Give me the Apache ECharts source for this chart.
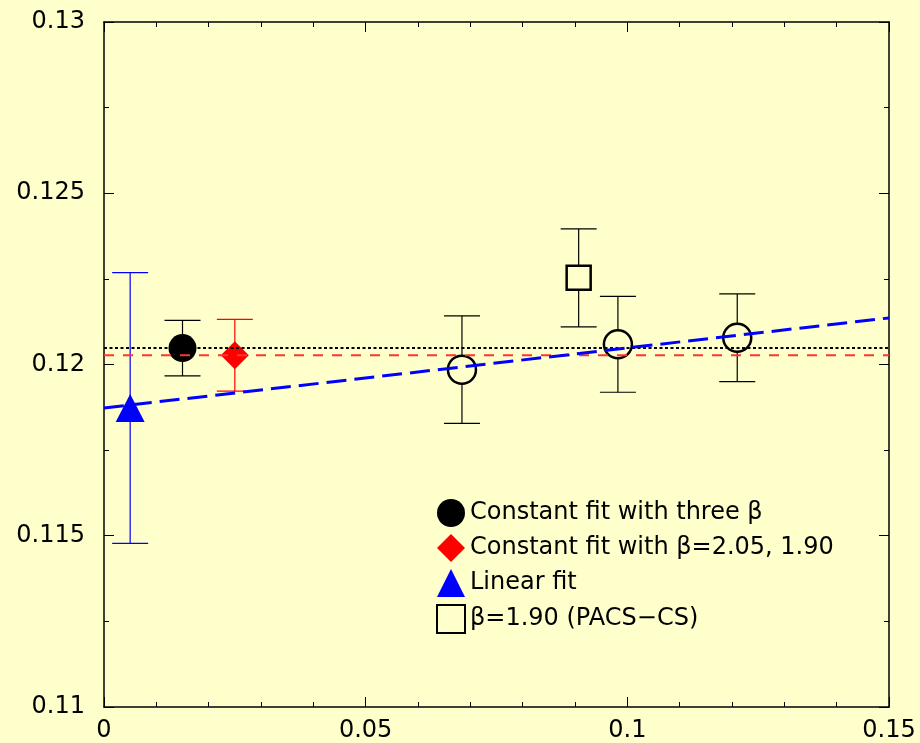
<!DOCTYPE html>
<html>
<head>
<meta charset="utf-8">
<script src="https://cdn.jsdelivr.net/npm/echarts@6/dist/echarts.min.js"></script>
<style>
  html, body { margin: 0; padding: 0; background: #ffffcc; }
  #chart { width: 920px; height: 743px; }
</style>
</head>
<body>
<div id="chart"></div>
<script>
// points: [x, y, error]
var threeBeta   = [[0.015, 0.12048, 0.00081]];   // filled black circle
var twoBeta     = [[0.025, 0.12027, 0.00105]];   // red diamond
var linearFit   = [[0.005, 0.11873, 0.00395]];   // blue triangle
var pacsCS      = [[0.0907, 0.12253, 0.00143]];  // open square
var openPoints  = [[0.0684, 0.11985, 0.00157], [0.0982, 0.12059, 0.0014], [0.1210, 0.12078, 0.00128]];

// fit lines
var constThreeY = 0.12048;
var constTwoY   = 0.12027;
var linFitX     = [0, 0.15];
var linFitY     = [0.11873, 0.12136];

// tick labels
var xTickLabels = ['0', '0.05', '0.1', '0.15'];
var yTickLabels = ['0.11', '0.115', '0.12', '0.125', '0.13'];

var bg = '#ffffcc';
var font = 'DejaVu Sans, sans-serif';

// error bars drawn as custom series
function errBars(data, color) {
  return {
    type: 'custom',
    z: 1,
    silent: true,
    data: data,
    renderItem: function (params, api) {
      var x = api.value(0), y = api.value(1), e = api.value(2);
      var t = api.coord([x, y + e]);
      var b = api.coord([x, y - e]);
      var w = 18;
      var st = { stroke: color, lineWidth: 1.2 };
      return {
        type: 'group',
        children: [
          { type: 'line', shape: { x1: t[0], y1: t[1], x2: b[0], y2: b[1] }, style: st },
          { type: 'line', shape: { x1: t[0] - w, y1: t[1], x2: t[0] + w, y2: t[1] }, style: st },
          { type: 'line', shape: { x1: b[0] - w, y1: b[1], x2: b[0] + w, y2: b[1] }, style: st }
        ]
      };
    }
  };
}

function pts(arr) {
  return arr.map(function (p) { return [p[0], p[1]]; });
}

var chart = echarts.init(document.getElementById('chart'));

var axisCommon = {
  axisLine: { show: true, onZero: false, lineStyle: { color: '#000', width: 1.5 } },
  axisTick: { show: true, inside: true, length: 10, lineStyle: { color: '#000', width: 1 } },
  minorTick: { show: true, length: 5, lineStyle: { color: '#000', width: 1 } },
  splitLine: { show: false },
  minorSplitLine: { show: false }
};

chart.setOption({
  backgroundColor: bg,
  animation: false,
  grid: { left: 104, right: 31, top: 22, bottom: 35 },
  legend: {
    orient: 'vertical',
    left: 436,
    top: 499,
    padding: 0,
    itemWidth: 28,
    itemHeight: 28,
    itemGap: 7,
    selectedMode: false,
    textStyle: { fontSize: 24, color: '#000', fontFamily: font },
    data: [
      { name: 'Constant fit with three β', icon: 'circle' },
      { name: 'Constant fit with β=2.05, 1.90', icon: 'diamond' },
      { name: 'Linear fit', icon: 'triangle' },
      { name: 'β=1.90 (PACS−CS)', icon: 'rect',
        itemStyle: { color: bg, borderColor: '#000', borderWidth: 2 } }
    ]
  },
  xAxis: [
    Object.assign({}, axisCommon, {
      type: 'value', min: 0, max: 0.15, interval: 0.05, position: 'bottom',
      minorTick: Object.assign({}, axisCommon.minorTick, { splitNumber: 5 }),
      axisLabel: {
        margin: 12, fontSize: 24, color: '#000', fontFamily: font,
        formatter: function (v) { return xTickLabels[Math.round(v / 0.05)]; }
      }
    }),
    Object.assign({}, axisCommon, {
      type: 'value', min: 0, max: 0.15, interval: 0.05, position: 'top',
      minorTick: Object.assign({}, axisCommon.minorTick, { splitNumber: 5 }),
      axisLabel: { show: false }
    })
  ],
  yAxis: [
    Object.assign({}, axisCommon, {
      type: 'value', min: 0.11, max: 0.13, interval: 0.005, position: 'left',
      minorTick: Object.assign({}, axisCommon.minorTick, { splitNumber: 2 }),
      axisLabel: {
        margin: 19, fontSize: 24, color: '#000', fontFamily: font,
        formatter: function (v) { return yTickLabels[Math.round((v - 0.11) / 0.005)]; }
      }
    }),
    Object.assign({}, axisCommon, {
      type: 'value', min: 0.11, max: 0.13, interval: 0.005, position: 'right',
      minorTick: Object.assign({}, axisCommon.minorTick, { splitNumber: 2 }),
      axisLabel: { show: false }
    })
  ],
  series: [
    errBars(openPoints, '#000'),
    errBars(pacsCS, '#000'),
    errBars(threeBeta, '#000'),
    errBars(twoBeta, '#ff0000'),
    errBars(linearFit, '#0000ff'),
    {
      name: 'open', type: 'scatter', z: 2, data: pts(openPoints),
      symbol: 'circle', symbolSize: 28,
      itemStyle: { color: bg, borderColor: '#000', borderWidth: 2.5, opacity: 1 }
    },
    {
      name: 'β=1.90 (PACS−CS)', type: 'scatter', z: 2, data: pts(pacsCS),
      symbol: 'rect', symbolSize: 24,
      itemStyle: { color: bg, borderColor: '#000', borderWidth: 2.5, opacity: 1 }
    },
    {
      name: 'Constant fit with three β', type: 'scatter', z: 2, data: pts(threeBeta),
      symbol: 'circle', symbolSize: 28,
      itemStyle: { color: '#000', opacity: 1 }
    },
    {
      name: 'Constant fit with β=2.05, 1.90', type: 'scatter', z: 2, data: pts(twoBeta),
      symbol: 'diamond', symbolSize: 28,
      itemStyle: { color: '#ff0000', opacity: 1 }
    },
    {
      name: 'Linear fit', type: 'scatter', z: 2, data: pts(linearFit),
      symbol: 'triangle', symbolSize: [29, 28],
      itemStyle: { color: '#0000ff', opacity: 1 }
    },
    {
      name: 'fitThree', type: 'line', z: 3, symbol: 'none', silent: true,
      data: [[0, constThreeY], [0.15, constThreeY]],
      lineStyle: { color: '#000', width: 2, type: [3, 2.5] }
    },
    {
      name: 'fitTwo', type: 'line', z: 3, symbol: 'none', silent: true,
      data: [[0, constTwoY], [0.15, constTwoY]],
      lineStyle: { color: '#ff3333', width: 2, type: [10, 9] }
    },
    {
      name: 'fitLin', type: 'line', z: 3, symbol: 'none', silent: true,
      data: [[linFitX[0], linFitY[0]], [linFitX[1], linFitY[1]]],
      lineStyle: { color: '#0000ff', width: 3, type: [20, 8] }
    }
  ]
});
</script>
</body>
</html>
